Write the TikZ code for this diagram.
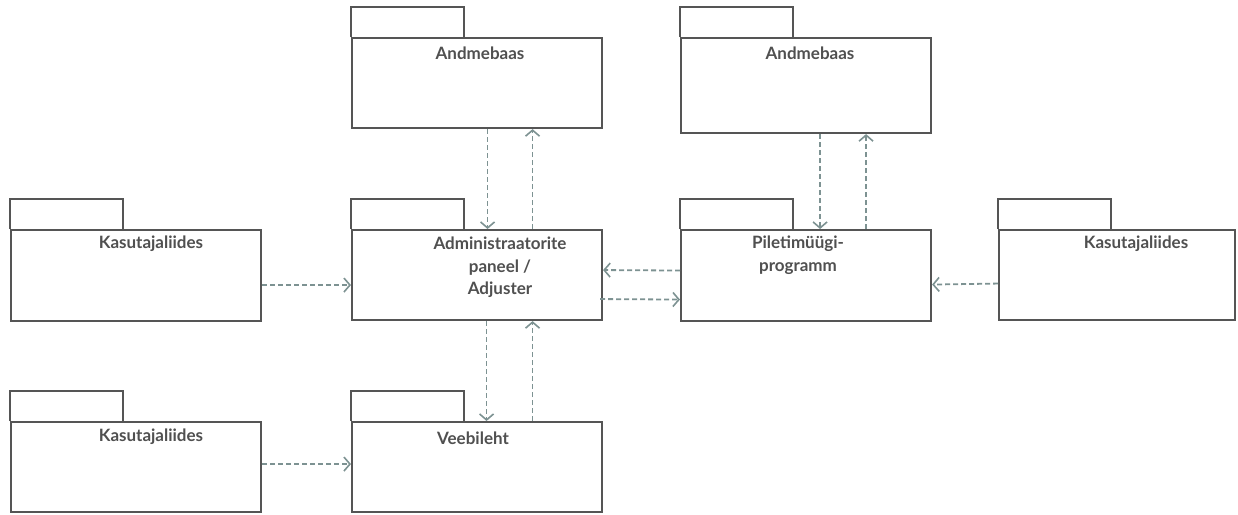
\documentclass[tikz,border=0pt]{standalone}
\usepackage{fontspec}
\setmainfont{Lato}
\usetikzlibrary{arrows.meta}
\definecolor{boxline}{HTML}{555555}
\definecolor{txt}{HTML}{505050}
\definecolor{arr}{HTML}{7D9292}
\tikzset{
  pkgbody/.style={draw=boxline, line width=2.1pt, fill=white, inner sep=0pt, anchor=north west, minimum width=#1},
  pkgbody/.default=250pt,
  lbl/.style={text=txt, font=\fontsize{17}{22.5}\selectfont\bfseries, align=center, inner sep=0pt},
  dep/.style={draw=arr, line width=1.8pt, dash pattern=on 5pt off 3pt, -{Straight Barb[length=6pt,width=14pt,line width=1.6pt]}},
}
\newcommand{\pkgtab}[1]{\draw[draw=boxline, line width=2.1pt] (#1.north west) -- ++(0,-30) -- ++(113,0) -- ++(0,30);}
\begin{document}
\begin{tikzpicture}[x=1pt,y=-1pt]
\useasboundingbox (0,0) rectangle (1238,514);
% bodies
\node[pkgbody, minimum height=90pt] (db1) at (351,37) {};
\node[pkgbody, minimum height=95pt] (db2) at (680,37) {};
\node[pkgbody, minimum height=91pt] (kas1) at (10,229) {};
\node[pkgbody, minimum height=90pt] (adm) at (351,229) {};
\node[pkgbody, minimum height=91pt] (pil) at (680,229) {};
\node[pkgbody, minimum height=90pt, minimum width=236pt] (kas2) at (998,229) {};
\node[pkgbody, minimum height=90pt] (kas3) at (10,421) {};
\node[pkgbody, minimum height=90pt] (veeb) at (351,421) {};
% tabs
\pkgtab{db1}\pkgtab{db2}\pkgtab{kas1}\pkgtab{adm}\pkgtab{pil}\pkgtab{kas2}\pkgtab{kas3}\pkgtab{veeb}
% labels
\node[lbl] (l-db1) at (480,53) {Andmebaas};
\node[lbl] (l-db2) at (810,53) {Andmebaas};
\node[lbl] (l-kas1) at (151,244) {Kasutajaliides};
\node[lbl, anchor=north] (l-adm) at (500,237) {Administraatorite\\paneel /\\Adjuster};
\node[lbl, anchor=north] (l-pil) at (798,236) {Piletimüügi-\\programm};
\node[lbl] (l-kas2) at (1136,244) {Kasutajaliides};
\node[lbl] (l-kas3) at (151,437) {Kasutajaliides};
\node[lbl] (l-veeb) at (473,438) {Veebileht};
% connectors
\draw[dep] ([xshift=10.5pt]db1.south) -- ([xshift=10.5pt]adm.north);
\draw[dep] ([xshift=55.5pt]adm.north) -- ([xshift=55.5pt]db1.south);
\draw[dep] ([xshift=14pt]db2.south) -- ([xshift=14pt]pil.north);
\draw[dep] ([xshift=60pt]pil.north) -- ([xshift=60pt]db2.south);
\draw[dep] ([xshift=9.5pt]adm.south) -- ([xshift=9.5pt]veeb.north);
\draw[dep] ([xshift=55.5pt]veeb.north) -- ([xshift=55.5pt]adm.south);
\draw[dep] ([yshift=5pt]pil.west) -- ([yshift=5pt]adm.east);
\draw[dep] ([yshift=-24pt,xshift=-3pt]adm.east) -- ([yshift=-24pt]pil.west);
\draw[dep] ([yshift=-9.5pt]kas1.east) -- ([yshift=-10pt]adm.west);
\draw[dep] ([yshift=-8.5pt]kas2.west) -- ([yshift=-9pt]pil.east);
\draw[dep] ([yshift=3pt]kas3.east) -- ([yshift=3pt]veeb.west);
\end{tikzpicture}
\end{document}
